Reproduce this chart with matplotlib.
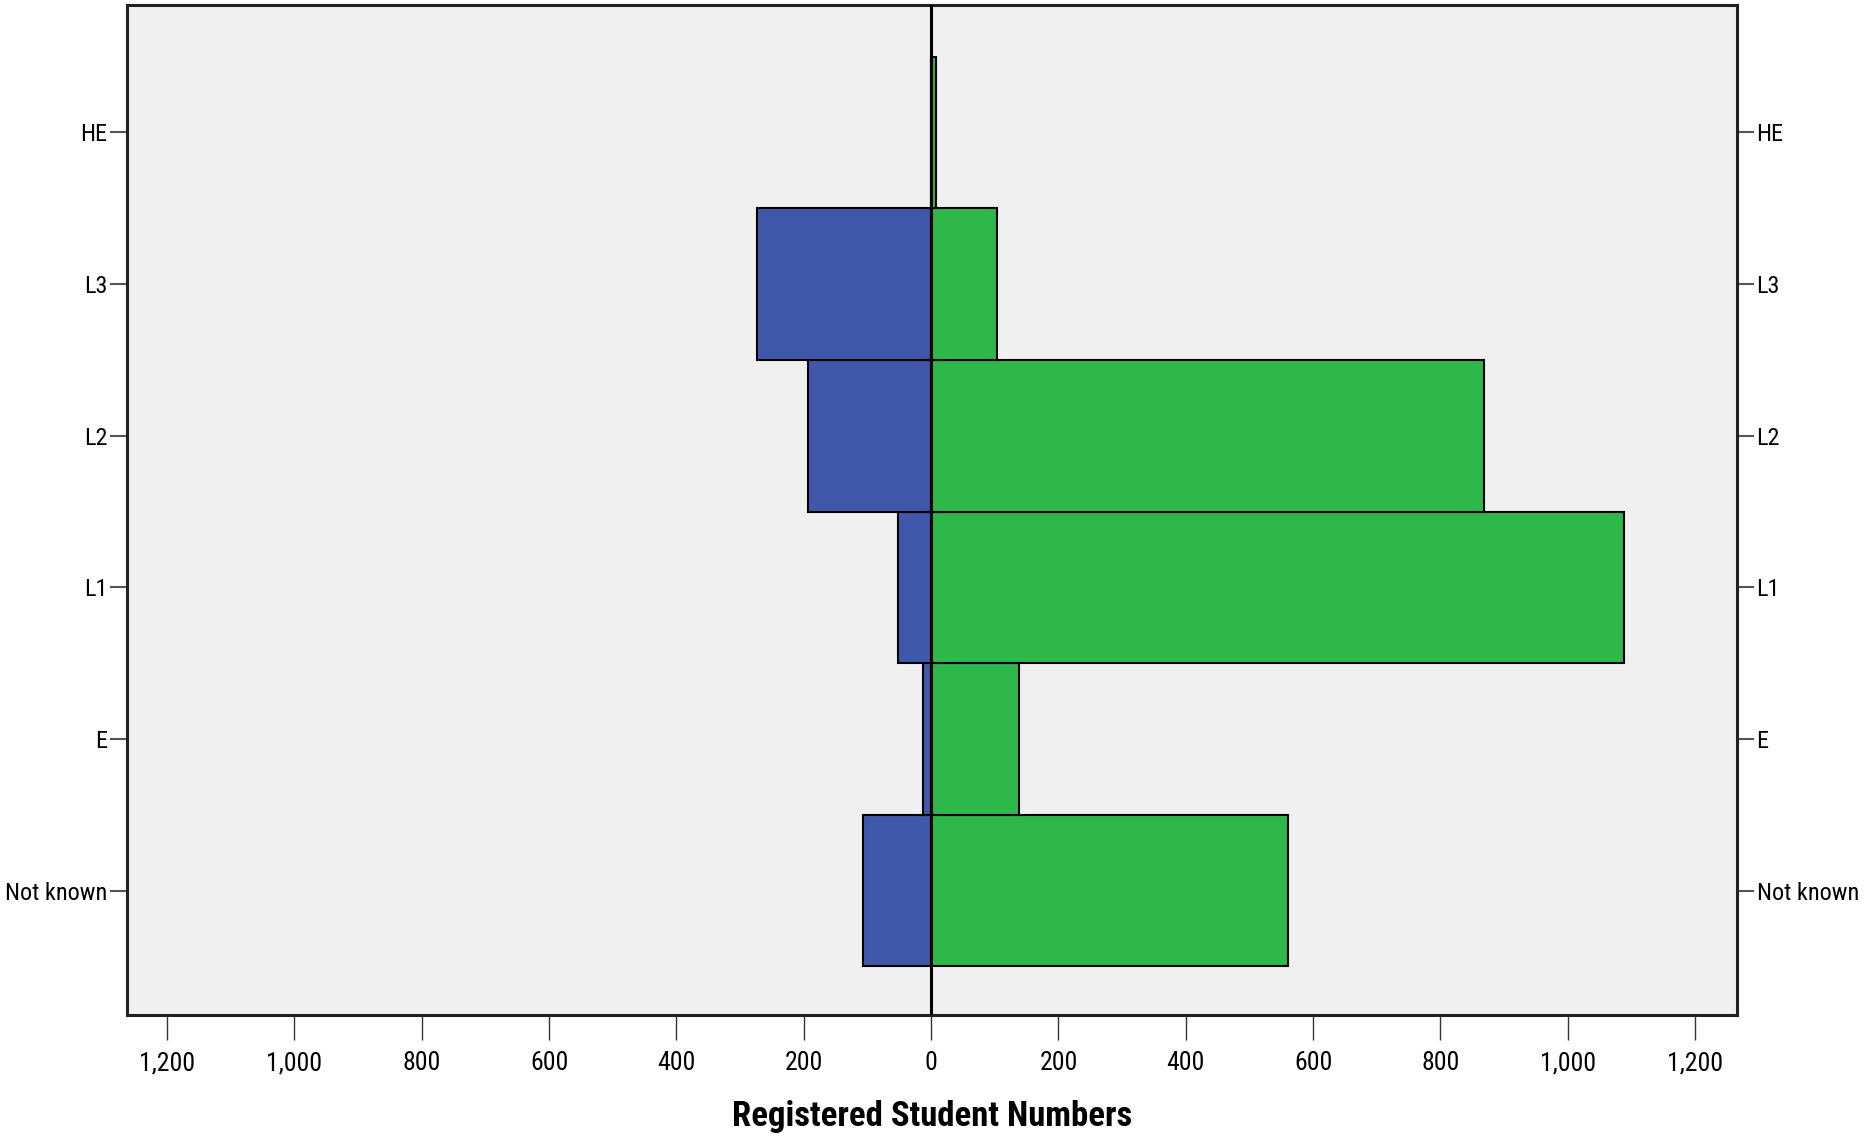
import matplotlib
matplotlib.use("Agg")
import matplotlib.pyplot as plt
from matplotlib.ticker import FuncFormatter, FixedLocator
from matplotlib import font_manager

categories = ["Not known", "E", "L1", "L2", "L3", "HE"]
blue_values = [107, 12, 52, 194, 273, 0]
green_values = [560, 138, 1089, 868, 104, 8]
x_ticks = [-1200, -1000, -800, -600, -400, -200, 0, 200, 400, 600, 800, 1000, 1200]
x_label = "Registered Student Numbers"

# look for a condensed sans face
fl = font_manager.fontManager.ttflist
fam, stretch, tick_size = "Liberation Sans", "normal", 15.5
found = False
for nm in ["Liberation Sans Narrow", "Arial Narrow", "Roboto Condensed", "Open Sans Condensed"]:
    if any(f.name == nm for f in fl):
        fam, stretch, tick_size, found = nm, "normal", 17.5, True
        break
if not found:
    for nm in ["Open Sans", "Noto Sans", "Roboto", "DejaVu Sans", "Lato", "Inter"]:
        cands = [f for f in fl if f.name == nm and isinstance(f.stretch, str)
                 and "condensed" in f.stretch]
        if cands:
            fam, stretch, tick_size, found = nm, cands[0].stretch, 17, True
            break

plt.rcParams['font.family'] = [fam, 'DejaVu Sans']
plt.rcParams['font.stretch'] = stretch

fig = plt.figure(figsize=(18.64, 11.38), dpi=100)
ax = fig.add_axes([0.0681, 0.1081, 0.8638, 0.8875])
ax.set_facecolor("#F0F0F0")

y = list(range(len(categories)))
ax.barh(y, [-v for v in blue_values], height=1.0, color="#3F58AA",
        edgecolor="black", linewidth=1.5, zorder=2)
ax.barh(y, green_values, height=1.0, color="#2EB84A",
        edgecolor="black", linewidth=1.5, zorder=2)
ax.axvline(0, color="black", linewidth=2.2, zorder=4)

ax.set_xlim(-1263, 1266)
ax.set_ylim(-0.82, 5.84)
ax.xaxis.set_major_locator(FixedLocator(x_ticks))
ax.xaxis.set_major_formatter(FuncFormatter(lambda v, p: f"{abs(int(round(v))):,}"))
ax.set_yticks(y)
ax.set_yticklabels(categories)

ax.tick_params(axis="x", length=18, width=1, color="#333333", labelsize=tick_size + 1, pad=8)
ax.tick_params(axis="y", length=12, width=1.5, color="#555555", labelsize=tick_size,
               left=True, right=True, labelleft=True, labelright=True, pad=2)
for lab in ax.get_xticklabels() + ax.get_yticklabels():
    lab.set_fontstretch(stretch)

for s in ax.spines.values():
    s.set_linewidth(2.2)
    s.set_color("#222222")

ax.set_xlabel(x_label, fontsize=25 if found else 23, fontweight="bold",
              fontstretch=stretch, labelpad=18)

fig.savefig("out.png", dpi=100, facecolor="white")
